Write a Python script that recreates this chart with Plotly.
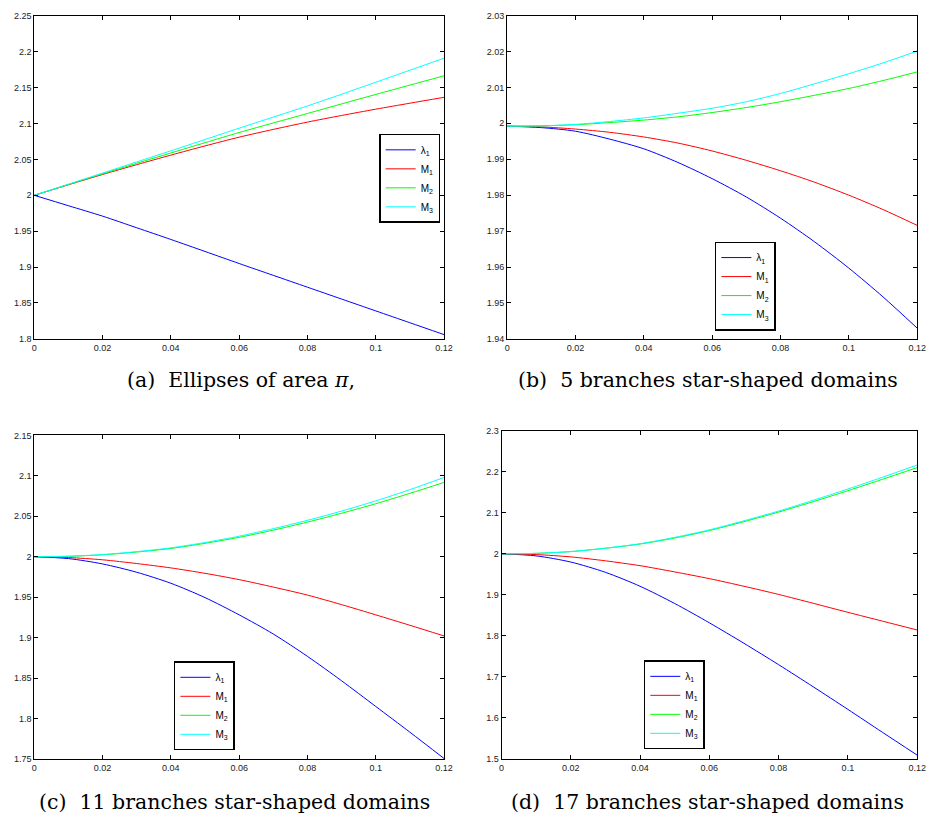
import plotly.graph_objects as go

x_vals = [0, 0.01, 0.02, 0.03, 0.04, 0.05, 0.06, 0.07, 0.08, 0.09, 0.10, 0.11, 0.12]
x_ticks = [0, 0.02, 0.04, 0.06, 0.08, 0.1, 0.12]
x_ticktext = ["0", "0.02", "0.04", "0.06", "0.08", "0.1", "0.12"]

series_names = ["λ<sub>1</sub>", "M<sub>1</sub>", "M<sub>2</sub>", "M<sub>3</sub>"]
series_colors = ["#0000ff", "#ff0000", "#00ff00", "#00ffff"]

# (a) Ellipses of area pi
a_lambda1 = [2.0, 1.9855, 1.9710, 1.9548, 1.9385, 1.9218, 1.9050, 1.8885, 1.8720, 1.8555, 1.8390, 1.8225, 1.8060]
a_M1 = [2.0, 2.0147, 2.0290, 2.0427, 2.0560, 2.0688, 2.0810, 2.0918, 2.1020, 2.1112, 2.1200, 2.1283, 2.1365]
a_M2 = [2.0, 2.0151, 2.0300, 2.0446, 2.0590, 2.0733, 2.0875, 2.1008, 2.1140, 2.1273, 2.1405, 2.1535, 2.1665]
a_M3 = [2.0, 2.0155, 2.0310, 2.0465, 2.0620, 2.0777, 2.0935, 2.1090, 2.1245, 2.1408, 2.1575, 2.1742, 2.1910]
a_yticks = [1.8, 1.85, 1.9, 1.95, 2.0, 2.05, 2.1, 2.15, 2.2, 2.25]
a_yticktext = ["1.8", "1.85", "1.9", "1.95", "2", "2.05", "2.1", "2.15", "2.2", "2.25"]

# (b) 5 branches
b_lambda1 = [1.9992, 1.9988, 1.9978, 1.9956, 1.9929, 1.9891, 1.9846, 1.9795, 1.9736, 1.9670, 1.9597, 1.9517, 1.9430]
b_M1 = [1.9992, 1.9990, 1.9984, 1.9975, 1.9962, 1.9945, 1.9923, 1.9897, 1.9868, 1.9836, 1.9800, 1.9760, 1.9716]
b_M2 = [1.9992, 1.9993, 1.9996, 2.0002, 2.0009, 2.0018, 2.0030, 2.0044, 2.0060, 2.0078, 2.0097, 2.0119, 2.0143]
b_M3 = [1.9992, 1.9993, 1.9997, 2.0005, 2.0015, 2.0028, 2.0042, 2.0060, 2.0083, 2.0110, 2.0138, 2.0168, 2.0201]
b_yticks = [1.94, 1.95, 1.96, 1.97, 1.98, 1.99, 2.0, 2.01, 2.02, 2.03]
b_yticktext = ["1.94", "1.95", "1.96", "1.97", "1.98", "1.99", "2", "2.01", "2.02", "2.03"]

# (c) 11 branches
c_lambda1 = [2.0, 1.9977, 1.9911, 1.9808, 1.9672, 1.9495, 1.9282, 1.9045, 1.8769, 1.8467, 1.8150, 1.7832, 1.7507]
c_M1 = [2.0, 1.9990, 1.9962, 1.9916, 1.9862, 1.9795, 1.9717, 1.9625, 1.9526, 1.9408, 1.9282, 1.9153, 1.9021]
c_M2 = [2.0, 2.0005, 2.0024, 2.0058, 2.0102, 2.0166, 2.0240, 2.0329, 2.0428, 2.0537, 2.0655, 2.0783, 2.0918]
c_M3 = [2.0, 2.0006, 2.0027, 2.0063, 2.0110, 2.0176, 2.0254, 2.0347, 2.0450, 2.0564, 2.0690, 2.0829, 2.0979]
c_yticks = [1.75, 1.8, 1.85, 1.9, 1.95, 2.0, 2.05, 2.1, 2.15]
c_yticktext = ["1.75", "1.8", "1.85", "1.9", "1.95", "2", "2.05", "2.1", "2.15"]

# (d) 17 branches
d_lambda1 = [2.0, 1.9950, 1.9800, 1.9550, 1.9210, 1.8790, 1.8320, 1.7820, 1.7300, 1.6760, 1.6210, 1.5650, 1.5096]
d_M1 = [2.0, 1.9982, 1.9926, 1.9830, 1.9712, 1.9560, 1.9396, 1.9210, 1.9011, 1.8795, 1.8575, 1.8360, 1.8144]
d_M2 = [2.0, 2.0012, 2.0055, 2.0135, 2.0239, 2.0385, 2.0568, 2.0785, 2.1018, 2.1272, 2.1539, 2.1817, 2.2101]
d_M3 = [2.0, 2.0012, 2.0055, 2.0140, 2.0247, 2.0402, 2.0584, 2.0806, 2.1042, 2.1305, 2.1580, 2.1867, 2.2165]
d_yticks = [1.5, 1.6, 1.7, 1.8, 1.9, 2.0, 2.1, 2.2, 2.3]
d_yticktext = ["1.5", "1.6", "1.7", "1.8", "1.9", "2", "2.1", "2.2", "2.3"]

captions = [
    "(a)  Ellipses of area <i>π</i>,",
    "(b)  5 branches star-shaped domains",
    "(c)  11 branches star-shaped domains",
    "(d)  17 branches star-shaped domains",
]

panels = [
    dict(data=[a_lambda1, a_M1, a_M2, a_M3], yr=[1.8, 2.25], yt=a_yticks, ytt=a_yticktext,
         xd=[0.0339, 0.4778], yd=[0.5878, 0.9866], leg=(0.4406, 0.7860), cap=(0.2580, 0.5366)),
    dict(data=[b_lambda1, b_M1, b_M2, b_M3], yr=[1.94, 2.03], yt=b_yticks, ytt=b_yticktext,
         xd=[0.5462, 0.9904], yd=[0.5878, 0.9870], leg=(0.8043, 0.6530), cap=(0.7636, 0.5366)),
    dict(data=[c_lambda1, c_M1, c_M2, c_M3], yr=[1.75, 2.15], yt=c_yticks, ytt=c_yticktext,
         xd=[0.0339, 0.4778], yd=[0.0691, 0.4687], leg=(0.2182, 0.1348), cap=(0.2513, 0.0159)),
    dict(data=[d_lambda1, d_M1, d_M2, d_M3], yr=[1.5, 2.3], yt=d_yticks, ytt=d_yticktext,
         xd=[0.5401, 0.9904], yd=[0.0691, 0.4744], leg=(0.7273, 0.1360), cap=(0.7630, 0.0159)),
]

fig = go.Figure()
tick_font = dict(family="Liberation Sans, Arial, sans-serif", size=9, color="#222222")

for i, p in enumerate(panels):
    sfx = "" if i == 0 else str(i + 1)
    leg = "legend" if i == 0 else "legend" + str(i + 1)
    for name, col, ys in zip(series_names, series_colors, p["data"]):
        fig.add_trace(go.Scatter(
            x=x_vals, y=ys, mode="lines", name=name,
            line=dict(color=col, width=1, shape="spline", smoothing=0.8),
            xaxis="x" + sfx, yaxis="y" + sfx, legend=leg,
        ))
    axis_common = dict(showgrid=False, zeroline=False, showline=True, linecolor="black",
                       linewidth=1, mirror="ticks", ticks="inside", ticklen=4,
                       tickcolor="black", tickfont=tick_font, ticklabeloverflow="allow")
    fig.update_layout(**{
        "xaxis" + sfx: dict(domain=p["xd"], range=[0, 0.12], tickvals=x_ticks,
                            ticktext=x_ticktext, anchor="y" + sfx, **axis_common),
        "yaxis" + sfx: dict(domain=p["yd"], range=p["yr"], tickvals=p["yt"],
                            ticktext=p["ytt"], anchor="x" + sfx, **axis_common),
        leg: dict(x=p["leg"][0], y=p["leg"][1], xanchor="center", yanchor="middle",
                  bgcolor="white", bordercolor="black", borderwidth=1.5,
                  font=dict(family="Liberation Sans, Arial, sans-serif", size=10, color="black"),
                  tracegroupgap=0),
    })
    fig.add_annotation(text=captions[i], x=p["cap"][0], y=p["cap"][1], xref="paper",
                       yref="paper", xanchor="center", yanchor="middle", showarrow=False,
                       font=dict(family="DejaVu Serif, serif", size=20.5, color="black"))

fig.update_layout(width=935, height=820, margin=dict(l=0, r=0, t=0, b=0),
                  paper_bgcolor="white", plot_bgcolor="white", showlegend=True)

fig.write_html("out.html", config={"displayModeBar": False},
               post_script="document.body.style.margin='0px';")
